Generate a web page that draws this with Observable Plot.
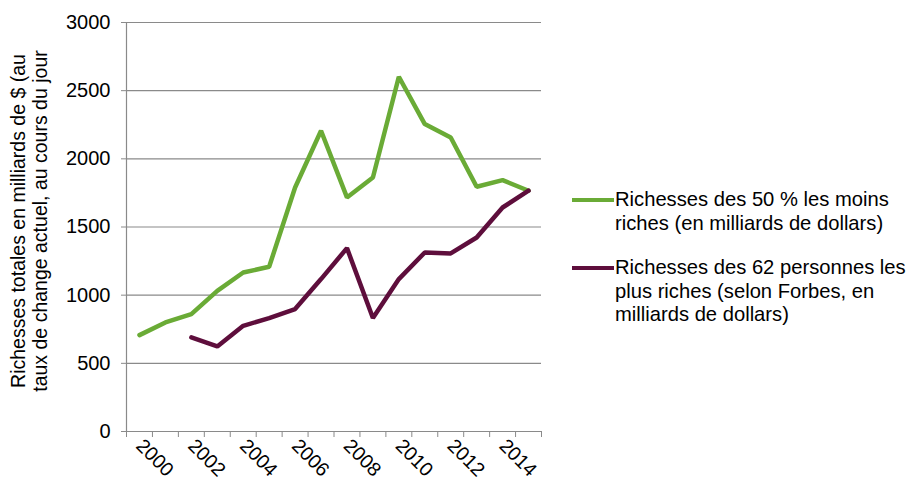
<!DOCTYPE html>
<html>
<head>
<meta charset="utf-8">
<script src="https://cdn.jsdelivr.net/npm/d3@7"></script>
<script src="https://cdn.jsdelivr.net/npm/@observablehq/plot@0.6"></script>
<style>
  html, body { margin: 0; padding: 0; background: #fff; }
  #wrap { position: relative; width: 909px; height: 488px; font-family: "Liberation Sans", Arial, sans-serif; color: #000; overflow: hidden; }
  #ytitle { position: absolute; left: 29px; top: 221px; width: 420px; transform: translate(-50%, -50%) rotate(-90deg); text-align: center; font-size: 19.5px; line-height: 22px; white-space: nowrap; }
  .leg { position: absolute; left: 572px; font-size: 20.2px; line-height: 23.5px; }
  .leg .sw { position: absolute; left: 0; width: 42px; height: 4px; top: 10px; }
  .leg .tx { margin-left: 43px; white-space: nowrap; }
</style>
</head>
<body>
<div id="wrap">
  <div id="chart"></div>
  <div id="ytitle">Richesses totales en milliards de $ (au<br>taux de change actuel, au cours du jour</div>
  <div id="legend"></div>
</div>
<script>
const years = [2000,2001,2002,2003,2004,2005,2006,2007,2008,2009,2010,2011,2012,2013,2014,2015];
const poorest50 = [707,800,861,1032,1166,1208,1790,2206,1717,1863,2602,2255,2157,1795,1844,1766];
const richest62 = [null,null,690,624,775,832,898,1118,1345,832,1118,1313,1306,1423,1643,1766];
const tickLabels = [2000,2002,2004,2006,2008,2010,2012,2014];
const yTicks = [0,500,1000,1500,2000,2500,3000];
const seriesNames = [
  "Richesses des 50 % les moins riches (en milliards de dollars)",
  "Richesses des 62 personnes les plus riches (selon Forbes, en milliards de dollars)"
];
const legendLines = [
  ["Richesses des 50 % les moins", "riches (en milliards de dollars)"],
  ["Richesses des 62 personnes les", "plus riches (selon Forbes, en", "milliards de dollars)"]
];
const colors = ["#6aab36", "#5e0e3c"];

const boundaries = d3.range(years.length + 1).map(i => years[0] - 0.5 + i);
const green = years.map((y, i) => ({year: y, value: poorest50[i]}));
const purple = years.map((y, i) => ({year: y, value: richest62[i]})).filter(d => d.value != null);

const plot = Plot.plot({
  width: 909,
  height: 488,
  marginLeft: 126,
  marginRight: 368,
  marginTop: 22,
  marginBottom: 57,
  style: {fontFamily: '"Liberation Sans", Arial, sans-serif', fontSize: "20px", color: "#000", background: "#fff"},
  x: {domain: [boundaries[0], boundaries[boundaries.length - 1]]},
  y: {domain: [0, 3000]},
  marks: [
    Plot.gridY(yTicks.filter(d => d > 0), {stroke: "#8a8a8a", strokeOpacity: 1, strokeWidth: 1.2}),
    Plot.ruleX([boundaries[0]], {stroke: "#8a8a8a", strokeWidth: 1.2}),
    Plot.ruleY([0], {stroke: "#8a8a8a", strokeWidth: 1.2}),
    Plot.axisY(yTicks, {tickSize: 5, tickPadding: 11, tickFormat: d => String(d), stroke: "#8a8a8a", fill: "#000", fontSize: 20, label: null}),
    Plot.axisX(boundaries, {tickSize: 6, tickFormat: () => "", stroke: "#8a8a8a", label: null}),
    Plot.axisX(tickLabels, {tickSize: 0, tickPadding: 11, tickRotate: 45, tickFormat: d => String(d), fill: "#000", fontSize: 19.5, label: null}),
    Plot.line(green, {x: "year", y: "value", stroke: colors[0], strokeWidth: 4.5, strokeLinejoin: "miter"}),
    Plot.line(purple, {x: "year", y: "value", stroke: colors[1], strokeWidth: 4.5, strokeLinejoin: "miter"})
  ]
});
document.getElementById("chart").appendChild(plot);

const leg = document.getElementById("legend");
const tops = [188, 256];
legendLines.forEach((lines, i) => {
  const d = document.createElement("div");
  d.className = "leg";
  d.style.top = tops[i] + "px";
  d.title = seriesNames[i];
  d.innerHTML = `<div class="sw" style="background:${colors[i]}"></div><div class="tx">${lines.join("<br>")}</div>`;
  leg.appendChild(d);
});
</script>
</body>
</html>
